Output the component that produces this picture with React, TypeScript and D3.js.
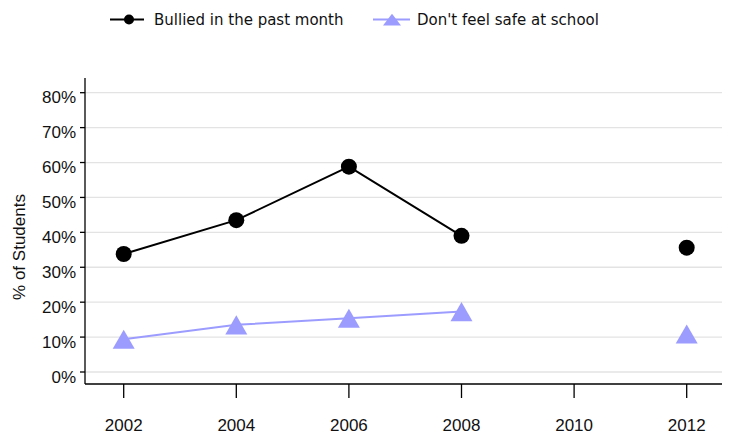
import React from 'react';
import * as d3 from 'd3';

// survey years and shares of students (null = no survey that year)
const years = [2002, 2004, 2006, 2008, 2010, 2012];
const bullied: (number | null)[] = [0.338, 0.435, 0.588, 0.39, null, 0.356];
const unsafe: (number | null)[] = [0.094, 0.135, 0.154, 0.173, null, 0.109];
const yTicks = [0, 0.1, 0.2, 0.3, 0.4, 0.5, 0.6, 0.7, 0.8];
const seriesNames = ['Bullied in the past month', "Don't feel safe at school"];

const W = 731;
const H = 436;
const left = 85;
const right = 722;
const axisTop = 78;
const axisBottom = 384;

const PURPLE = '#9c9cff';
const AXIS_FONT = '"Liberation Sans", Arial, sans-serif';
const LEGEND_FONT = '"DejaVu Sans", Verdana, sans-serif';

const App = () => {
  const x = d3.scaleLinear().domain([2002, 2012]).range([123.7, 686.7]);
  const y = d3.scaleLinear().domain([0, 0.8]).range([372, 92.7]);

  const line = d3
    .line<number | null>()
    .defined((d) => d != null)
    .x((_, i) => x(years[i]))
    .y((d) => y(d as number));

  const tri = d3.symbol(d3.symbolTriangle, 209.5)();
  const triShift = Math.sqrt(209.5 / (Math.sqrt(3) * 3)) / 2;
  const triSmall = d3.symbol(d3.symbolTriangle, 140)();
  const fmt = d3.format('.0%');

  return (
    <svg width={W} height={H} style={{ display: 'block', position: 'absolute', left: 0, top: 0 }}>
      <rect width={W} height={H} fill="#fff" />

      {/* legend */}
      <g fontFamily={LEGEND_FONT} fontSize={15} fill="#111">
        <line x1={110} x2={144} y1={19.5} y2={19.5} stroke="#000" strokeWidth={2} />
        <circle cx={129} cy={19.5} r={5} fill="#000" />
        <text x={154} y={25}>{seriesNames[0]}</text>
        <line x1={373} x2={410} y1={19.5} y2={19.5} stroke={PURPLE} strokeWidth={2} />
        <path d={triSmall || ''} transform={`translate(392,${19.5 + 2}) scale(1,0.75)`} fill={PURPLE} />
        <text x={417} y={25}>{seriesNames[1]}</text>
      </g>

      {/* gridlines */}
      {yTicks.map((t) => (
        <line key={t} x1={left} x2={right} y1={y(t)} y2={y(t)} stroke="#e3e3e3" strokeWidth={1.3} />
      ))}

      {/* axes */}
      <line x1={left} x2={left} y1={axisTop} y2={axisBottom} stroke="#000" strokeWidth={1.3} />
      <line x1={left} x2={right} y1={axisBottom} y2={axisBottom} stroke="#000" strokeWidth={1.3} />

      <g fontFamily={AXIS_FONT} fontSize={17} fill="#111">
        {yTicks.map((t) => (
          <g key={t}>
            <line x1={left - 5} x2={left} y1={y(t)} y2={y(t)} stroke="#000" strokeWidth={1.3} />
            <text x={76} y={y(t) + 10.5} textAnchor="end">{fmt(t)}</text>
          </g>
        ))}
        {years.map((yr) => (
          <line key={'t' + yr} x1={x(yr)} x2={x(yr)} y1={axisBottom} y2={398} stroke="#000" strokeWidth={1.3} />
        ))}
        {years.map((yr) => (
          <text key={'l' + yr} x={x(yr)} y={431} textAnchor="middle">{yr}</text>
        ))}
        <text transform={`translate(25,247) rotate(-90)`} textAnchor="middle">% of Students</text>
      </g>

      {/* series */}
      <path d={line(bullied) || ''} fill="none" stroke="#000" strokeWidth={2} />
      {bullied.map((v, i) =>
        v == null ? null : <circle key={i} cx={x(years[i])} cy={y(v)} r={8} fill="#000" />
      )}

      <path d={line(unsafe) || ''} fill="none" stroke={PURPLE} strokeWidth={2} />
      {unsafe.map((v, i) =>
        v == null ? null : (
          <path key={i} d={tri || ''} transform={`translate(${x(years[i])},${y(v) + triShift})`} fill={PURPLE} />
        )
      )}
    </svg>
  );
};

export default App;
